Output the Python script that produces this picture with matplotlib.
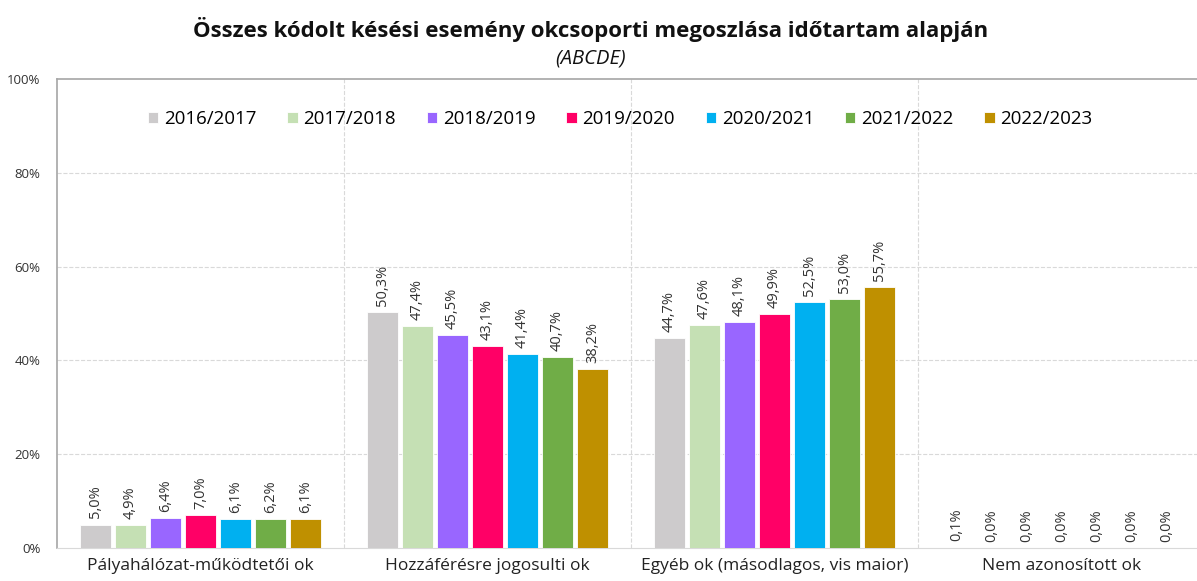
import matplotlib.pyplot as plt
import numpy as np

# categories and seasons
categories = ["Pályahálózat-működtetői ok", "Hozzáférésre jogosulti ok",
              "Egyéb ok (másodlagos, vis maior)", "Nem azonosított ok"]
seasons = ["2016/2017", "2017/2018", "2018/2019", "2019/2020",
           "2020/2021", "2021/2022", "2022/2023"]

# share (%) per season, one list per category position
v_2016 = [5.0, 50.3, 44.7, 0.1]
v_2017 = [4.9, 47.4, 47.6, 0.0]
v_2018 = [6.4, 45.5, 48.1, 0.0]
v_2019 = [7.0, 43.1, 49.9, 0.0]
v_2020 = [6.1, 41.4, 52.5, 0.0]
v_2021 = [6.2, 40.7, 53.0, 0.0]
v_2022 = [6.1, 38.2, 55.7, 0.0]
values = [v_2016, v_2017, v_2018, v_2019, v_2020, v_2021, v_2022]

colors = ["#CDCBCC", "#C5E0B4", "#9966FF", "#FF0066",
          "#00B0F0", "#70AD47", "#BF9000"]

plt.rcParams["font.family"] = ["Open Sans", "DejaVu Sans"]

fig = plt.figure(figsize=(11.97, 5.81), dpi=100)
ax = fig.add_axes([57 / 1197, 33 / 581, 1 - 57 / 1197, 469 / 581])

x = np.arange(len(categories))
step = 0.122
width = 0.105
for i, (s, vals) in enumerate(zip(seasons, values)):
    pos = x + (i - 3) * step
    bars = ax.bar(pos, vals, width, color=colors[i], edgecolor="white",
                  linewidth=0.6, label=s, zorder=3)
    for b, v in zip(bars, vals):
        ax.text(b.get_x() + b.get_width() / 2, v + 1.3,
                f"{v:.1f}%".replace(".", ","), rotation=90,
                ha="center", va="bottom", fontsize=10.5, color="#333333")

ax.set_ylim(0, 100)
ax.set_xlim(-0.5, 3.5 - 8 / 287)
ax.set_yticks(range(0, 101, 20))
ax.set_yticklabels([f"{t}%" for t in range(0, 101, 20)], fontsize=9.5,
                   color="#333333")
ax.set_xticks(x)
ax.set_xticklabels(categories, fontsize=12.5, color="#222222")
ax.tick_params(axis="both", length=0)
ax.tick_params(axis="y", pad=12)
ax.tick_params(axis="x", pad=7)

# grid: horizontal dashed + category separators
for yv in [20, 40, 60, 80]:
    ax.axhline(yv, color="#D9D9D9", linestyle="--", linewidth=0.8, zorder=0)
for xv in [0.5, 1.5, 2.5]:
    ax.axvline(xv, color="#D9D9D9", linestyle="--", linewidth=0.8, zorder=0)

ax.spines["right"].set_visible(False)
ax.spines["top"].set_color("#A6A6A6")
ax.spines["left"].set_color("#A6A6A6")
ax.spines["bottom"].set_color("#D9D9D9")
for sp in ["top", "left"]:
    ax.spines[sp].set_linewidth(1.2)

ax.legend(loc="upper center", bbox_to_anchor=(0.494, 0.97), ncol=7,
          frameon=False, fontsize=13.5, handlelength=0.55, handleheight=0.55,
          handletextpad=0.3, columnspacing=1.65)

fig.text(0.493, 0.95, "Összes kódolt késési esemény okcsoporti megoszlása időtartam alapján",
         ha="center", va="center", fontsize=16, fontweight="bold", color="#111111")
fig.text(0.493, 0.9, "(ABCDE)", ha="center", va="center", fontsize=14.5,
         style="italic", color="#111111")

fig.savefig("out.png", dpi=100)
